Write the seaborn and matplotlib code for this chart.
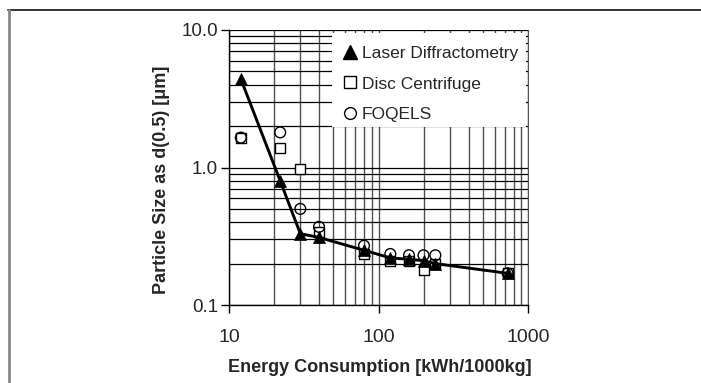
import matplotlib
matplotlib.use("Agg")
import matplotlib.pyplot as plt
from matplotlib.lines import Line2D
from matplotlib.patches import Rectangle
from matplotlib.ticker import FixedLocator, LogLocator, NullFormatter, FixedFormatter
import seaborn as sns
import pandas as pd

# ---- data ----
energy = [12, 22, 30, 40, 80, 120, 160, 200, 240, 730]
laser = [4.4, 0.80, 0.33, 0.31, 0.25, 0.22, 0.215, 0.21, 0.20, 0.17]
disc = [1.65, 1.38, 0.97, 0.34, 0.235, 0.21, 0.21, 0.18, 0.20, 0.17]
foqels = [1.65, 1.80, 0.50, 0.37, 0.27, 0.235, 0.23, 0.23, 0.23, 0.17]
series_names = ["Laser Diffractometry", "Disc Centrifuge", "FOQELS"]
x_ticks = [10, 100, 1000]
x_tick_labels = ["10", "100", "1000"]
y_ticks = [0.1, 1.0, 10.0]
y_tick_labels = ["0.1", "1.0", "10.0"]
x_label = "Energy Consumption [kWh/1000kg]"
y_label = "Particle Size as d(0.5) [\u03bcm]"

df = pd.DataFrame({"energy": energy, "laser": laser, "disc": disc, "foqels": foqels})

sns.set_style("ticks")
plt.rcParams["font.family"] = ["Liberation Sans", "DejaVu Sans"]

fig = plt.figure(figsize=(7.01, 3.83), dpi=100)
ax = fig.add_axes([229 / 701, 1 - 305 / 383, 299 / 701, 275 / 383])
ax.set_xscale("log")
ax.set_yscale("log")

sns.scatterplot(data=df, x="energy", y="disc", marker="s", s=55, facecolor="white",
                edgecolor="black", linewidth=1.0, ax=ax, zorder=3)
sns.scatterplot(data=df, x="energy", y="foqels", marker="o", s=60, facecolor="none",
                edgecolor="black", linewidth=1.0, ax=ax, zorder=3)
sns.lineplot(data=df, x="energy", y="laser", color="black", linewidth=2.1, ax=ax,
             zorder=4, sort=False)
sns.scatterplot(data=df, x="energy", y="laser", marker="^", s=75, color="black",
                edgecolor="black", linewidth=0.5, ax=ax, zorder=5)

ax.set_xlim(10, 1000)
ax.set_ylim(0.1, 10)
ax.set_axisbelow(True)

ax.xaxis.set_major_locator(FixedLocator(x_ticks))
ax.xaxis.set_major_formatter(FixedFormatter(x_tick_labels))
ax.yaxis.set_major_locator(FixedLocator(y_ticks))
ax.yaxis.set_major_formatter(FixedFormatter(y_tick_labels))
ax.xaxis.set_minor_locator(LogLocator(base=10, subs=range(2, 10)))
ax.yaxis.set_minor_locator(LogLocator(base=10, subs=range(2, 10)))
ax.xaxis.set_minor_formatter(NullFormatter())
ax.yaxis.set_minor_formatter(NullFormatter())

ax.tick_params(axis="x", which="major", direction="out", length=6, width=1,
               color="black", labelsize=14, pad=11, top=False)
ax.tick_params(axis="y", which="major", direction="out", length=6, width=1,
               color="black", labelsize=13.5, pad=2, right=False)
ax.tick_params(which="minor", length=0)

ax.grid(True, which="both", axis="y", color="black", linewidth=0.9)
ax.grid(True, which="both", axis="x", color="#4d4d4d", linewidth=1.0)

ax.set_xlabel("")
ax.set_ylabel("")
for side in ["left", "bottom"]:
    ax.spines[side].set_color("black")
    ax.spines[side].set_linewidth(1.0)
ax.spines["right"].set_visible(True)
ax.spines["right"].set_color("#555555")
ax.spines["top"].set_visible(False)

# white legend background
ax.add_patch(Rectangle((0.343, 0.647), 0.650, 0.342, transform=ax.transAxes,
                       facecolor="white", edgecolor="none", zorder=2))

handles = [
    Line2D([], [], linestyle="none", marker="^", markersize=9.5, color="black"),
    Line2D([], [], linestyle="none", marker="s", markersize=8.5, markerfacecolor="white",
           markeredgecolor="black", markeredgewidth=1.0),
    Line2D([], [], linestyle="none", marker="o", markersize=8.5, markerfacecolor="white",
           markeredgecolor="black", markeredgewidth=1.0),
]
leg = ax.legend(handles, series_names, loc="upper left", bbox_to_anchor=(0.383, 0.942),
                frameon=False, fontsize=12.5, handlelength=0.8, handletextpad=0.25,
                labelspacing=0.88, borderpad=0.0, borderaxespad=0.0)
leg.set_zorder(6)

fig.text(161 / 701, 1 - 180 / 383, y_label, rotation=90, ha="center", va="center",
         fontsize=13, fontweight="bold")
fig.text(379.5 / 701, 1 - 367 / 383, x_label, ha="center", va="center",
         fontsize=13, fontweight="bold")

# outer frame lines
fig.add_artist(Line2D([8 / 701, 1.0], [1 - 10 / 383, 1 - 10 / 383],
                      transform=fig.transFigure, color="#333333", linewidth=1.4))
fig.add_artist(Line2D([8.5 / 701, 8.5 / 701], [1 - 10 / 383, 0.0],
                      transform=fig.transFigure, color="#888888", linewidth=2.0))

fig.savefig("out.png", dpi=100, facecolor="white")
